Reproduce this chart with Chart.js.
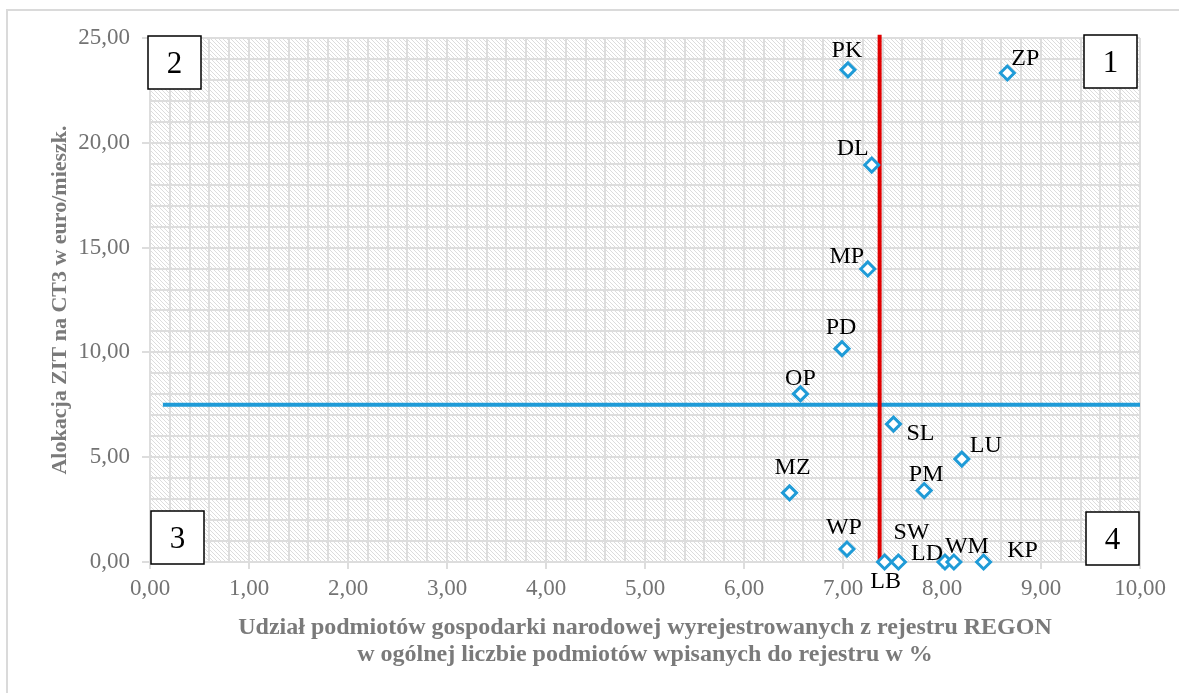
<!DOCTYPE html>
<html><head><meta charset="utf-8">
<script src="https://cdn.jsdelivr.net/npm/chart.js@4.4.1/dist/chart.umd.min.js"></script>
<style>
html,body{margin:0;padding:0;background:#fff;}
#wrap{position:relative;width:1179px;height:693px;overflow:hidden;}
#frame{position:absolute;left:6px;top:9px;width:1300px;height:800px;border-left:2px solid #dadada;border-top:2px solid #dadada;box-sizing:border-box;}
#c{position:absolute;left:0;top:0;}
</style></head><body>
<div id="wrap"><div id="frame"></div><canvas id="c" width="1179" height="693"></canvas></div>
<script>
// ---- data ----
const regionCodes   = ['PK','ZP','DL','MP','PD','OP','SL','LU','PM','MZ','WP','LB','SW','LD','WM','KP'];
const deregShare    = [7.05, 8.66, 7.29, 7.25, 6.99, 6.57, 7.51, 8.20, 7.82, 6.46, 7.04, 7.42, 7.56, 8.03, 8.12, 8.42];
const zitAllocation = [23.48,23.33,18.94,13.98,10.18, 8.02, 6.58, 4.91, 3.41, 3.30, 0.62, 0.00, 0.00, 0.00, 0.00, 0.00];
const avgShareLineX = [7.37, 7.37];
const avgShareLineY = [0, 25.15];
const avgAllocLineX = [0.13, 10];
const avgAllocLineY = [7.5, 7.5];
const quadrantLabels = ['1','2','3','4'];
const xAxisTitle = ['Udział podmiotów gospodarki narodowej wyrejestrowanych z rejestru REGON',
                    'w ogólnej liczbie podmiotów wpisanych do rejestru w %'];
const yAxisTitle = 'Alokacja ZIT na CT3 w euro/mieszk.';

// ---- label placement (style) ----
const labelOffsets = {
  PK:[-1,-20], ZP:[18,-15], DL:[-19,-17], MP:[-21,-13], PD:[-1,-22], OP:[0,-16],
  SL:[27,9], LU:[24,-14], PM:[2,-17], MZ:[3,-26], WP:[-3,-22], LB:[1,19],
  SW:[13,-30], LD:[-18,-9], WM:[13,-16], KP:[39,-12]
};

const fmt = v => v.toFixed(2).replace('.', ',');
const isInt = v => Math.abs(v - Math.round(v)) < 1e-6;
const isFive = v => isInt(v) && Math.round(v) % 5 === 0;

// hatch pattern
const hatch = document.createElement('canvas'); hatch.width = 4; hatch.height = 4;
const hc = hatch.getContext('2d');
hc.fillStyle = '#ffffff'; hc.fillRect(0,0,4,4);
hc.strokeStyle = '#dcdcdc'; hc.lineWidth = 1;
hc.beginPath();
hc.moveTo(-1,-1); hc.lineTo(5,5);
hc.moveTo(3,-1); hc.lineTo(5,1);
hc.moveTo(-1,3); hc.lineTo(1,5);
hc.stroke();

const bgPlugin = {
  id: 'bg',
  beforeDraw(chart) {
    const {ctx, chartArea:a} = chart;
    ctx.save();
    ctx.fillStyle = ctx.createPattern(hatch, 'repeat');
    ctx.fillRect(a.left, a.top, a.right - a.left, a.bottom - a.top);
    ctx.restore();
  }
};

const labelPlugin = {
  id: 'pointLabels',
  afterDatasetsDraw(chart) {
    const {ctx} = chart;
    const meta = chart.getDatasetMeta(0);
    ctx.save();
    ctx.font = '24px "Liberation Serif", "Times New Roman", serif';
    ctx.fillStyle = '#000';
    ctx.textAlign = 'center';
    ctx.textBaseline = 'middle';
    meta.data.forEach((pt, i) => {
      const code = regionCodes[i];
      const o = labelOffsets[code] || [0,-20];
      ctx.fillText(code, pt.x + o[0], pt.y + o[1] + 1);
    });
    ctx.restore();
  }
};

const quadPlugin = {
  id: 'quadrants',
  afterDraw(chart) {
    const {ctx, chartArea:a} = chart;
    const s = 53;
    const boxes = [
      [a.right - 3 - s, a.top - 3],
      [a.left - 2, a.top - 2],
      [a.left + 1, a.bottom + 2 - s],
      [a.right - 1 - s, a.bottom + 3 - s]
    ];
    ctx.save();
    ctx.font = '31px "Liberation Serif", "Times New Roman", serif';
    ctx.textAlign = 'center';
    ctx.textBaseline = 'middle';
    boxes.forEach((b, i) => {
      ctx.fillStyle = '#fff';
      ctx.fillRect(b[0], b[1], s, s);
      ctx.strokeStyle = '#000'; ctx.lineWidth = 1.5;
      ctx.strokeRect(b[0], b[1], s, s);
      ctx.fillStyle = '#000';
      ctx.fillText(quadrantLabels[i], b[0] + s/2, b[1] + s/2 + 2);
    });
    ctx.restore();
  }
};

const gridCol = '#dddddd';
new Chart(document.getElementById('c'), {
  type: 'scatter',
  data: {
    datasets: [
      {
        label: 'Regiony',
        data: regionCodes.map((c, i) => ({x: deregShare[i], y: zitAllocation[i]})),
        pointStyle: 'rectRot',
        pointRadius: 7,
        pointHoverRadius: 7,
        borderWidth: 3,
        borderColor: '#1f9bd7',
        backgroundColor: '#ffffff',
        clip: false
      },
      {
        type: 'line',
        label: 'avgShare',
        data: avgShareLineX.map((x, i) => ({x, y: avgShareLineY[i]})),
        borderColor: '#e00000',
        borderWidth: 4,
        pointRadius: 0,
        showLine: true,
        clip: false
      },
      {
        type: 'line',
        label: 'avgAlloc',
        data: avgAllocLineX.map((x, i) => ({x, y: avgAllocLineY[i]})),
        borderColor: '#1f9bd7',
        borderWidth: 4,
        pointRadius: 0,
        showLine: true,
        clip: false
      }
    ]
  },
  options: {
    responsive: false,
    animation: false,
    events: [],
    layout: {padding: {left: 0, top: 38, right: 39, bottom: 0}},
    plugins: {legend: {display: false}, tooltip: {enabled: false}},
    scales: {
      x: {
        type: 'linear', min: 0, max: 10,
        afterFit(s) { s.height = 131; },
        border: {display: false},
        grid: {
          color: gridCol, lineWidth: 2, tickLength: 7,
          tickColor: c => (c.tick && isInt(c.tick.value)) ? gridCol : 'rgba(0,0,0,0)'
        },
        ticks: {
          stepSize: 0.2, autoSkip: false, maxRotation: 0, padding: 6,
          color: '#737373',
          font: {family: '"Liberation Serif", "Times New Roman", serif', size: 23},
          callback: v => isInt(v) ? fmt(v) : ''
        },
        title: {
          display: true, text: xAxisTitle, color: '#7a7a7a',
          font: {family: '"Liberation Serif", "Times New Roman", serif', size: 24, weight: 'bold', lineHeight: 1.15},
          padding: {top: 0, bottom: 24}
        }
      },
      y: {
        type: 'linear', min: 0, max: 25,
        afterFit(s) { s.width = 150; },
        border: {display: false},
        grid: {
          color: gridCol, lineWidth: 2, tickLength: 8,
          tickColor: c => (c.tick && isFive(c.tick.value)) ? gridCol : 'rgba(0,0,0,0)'
        },
        ticks: {
          stepSize: 1, autoSkip: false, padding: 12,
          color: '#737373',
          font: {family: '"Liberation Serif", "Times New Roman", serif', size: 23},
          callback: v => isFive(v) ? fmt(v) : ''
        },
        title: {
          display: true, text: yAxisTitle, color: '#7a7a7a',
          font: {family: '"Liberation Serif", "Times New Roman", serif', size: 22, weight: 'bold', lineHeight: 1.2},
          padding: {top: 47, bottom: 0}
        }
      }
    }
  },
  plugins: [bgPlugin, labelPlugin, quadPlugin]
});
</script>
</body></html>
